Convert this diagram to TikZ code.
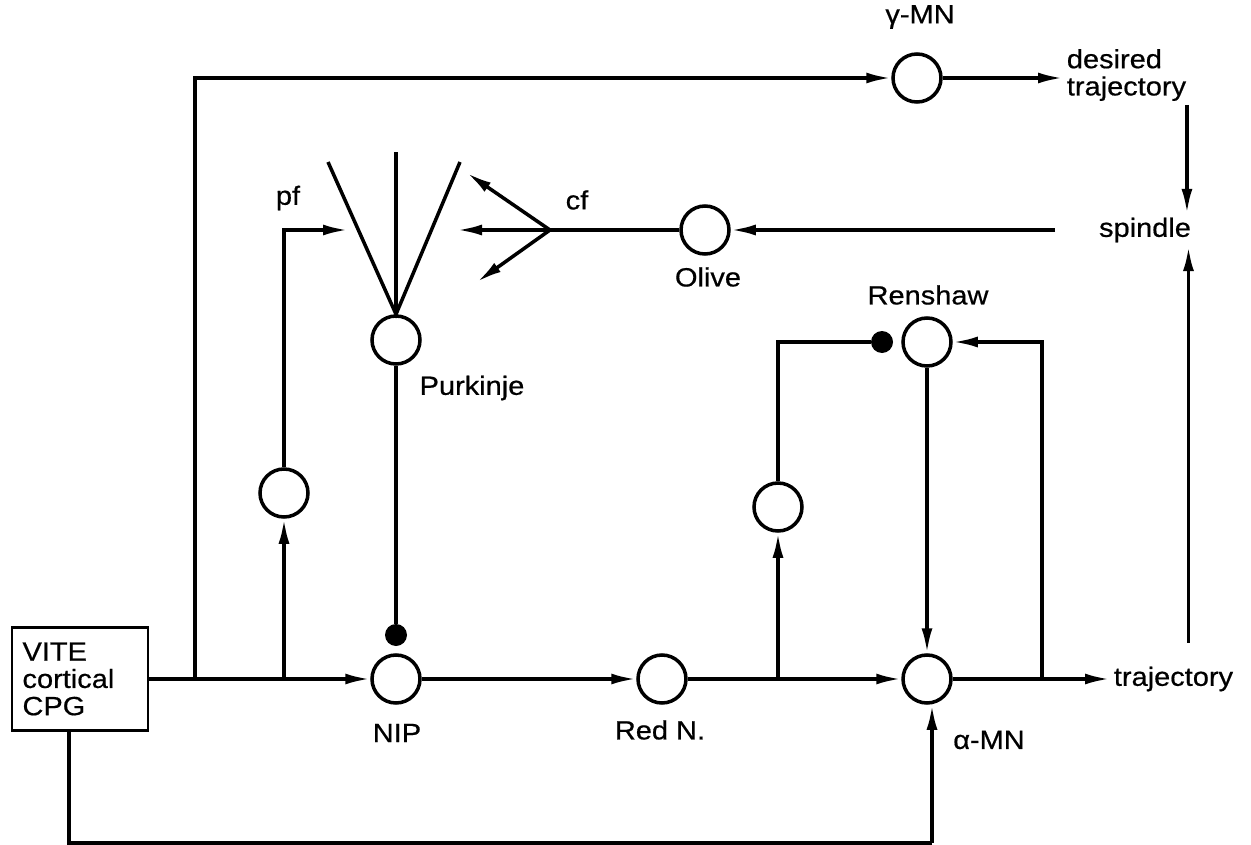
\documentclass[tikz,border=0pt]{standalone}
\usepackage{fontspec}
\setmainfont{Liberation Sans}[FakeStretch=1.1, FakeBold=0.6]
\usepackage{tikz}
\usetikzlibrary{calc, positioning, arrows.meta}

\begin{document}
\begin{tikzpicture}[
  x=0.02cm, y=-0.02cm,
  wire/.style={line width=2pt},
  arr/.style={wire, -{Latex[length=0.5cm, width=0.22cm]}},
  neuron/.style={circle, draw, line width=2pt, minimum size=0.96cm, inner sep=0pt},
  inhib/.style={circle, fill=black, minimum size=0.44cm, inner sep=0pt},
  lbl/.style={font=\fontsize{15}{15.5}\selectfont, inner sep=2pt}
]
  \useasboundingbox (0,0) rectangle (1251,845);

  % Input box
  \node[draw, line width=1.2pt, lbl, align=left, text width=2.3cm,
        inner xsep=0.21cm, minimum height=2.06cm] (vite) at (80,679)
        {VITE\\cortical\\CPG};

  % Neurons
  \node[neuron] (nip)   at (396,679) {};
  \node[neuron] (redn)  at (662,679) {};
  \node[neuron] (amn)   at (927,679) {};
  \node[neuron] (purk)  at (396,340) {};
  \node[neuron] (pfn)   at (284,493) {};
  \node[neuron] (intn)  at (778,507) {};
  \node[neuron] (rensh) at (927,342) {};
  \node[neuron] (olive) at (705,230) {};
  \node[neuron] (gmn)   at (917,78)  {};
  \node[inhib]  (nipdot) at (396,635) {};
  \node[inhib]  (rendot) at (882,342) {};

  % Labels
  \node[lbl] (lgmn)   at (920,17)  {γ-MN};
  \node[lbl] (lpf)    at (288,198) {pf};
  \node[lbl] (lcf)    at (577,200) {cf};
  \node[lbl] (lolive) at (708,277) {Olive};
  \node[lbl] (lpurk)  at (472,388) {Purkinje};
  \node[lbl] (lrensh) at (928,295) {Renshaw};
  \node[lbl] (lnip)   at (397,733) {NIP};
  \node[lbl] (lredn)  at (660,730) {Red N.};
  \node[lbl] (lamn)   at (989,740) {α-MN};
  \node[lbl, anchor=west] (traj) at (1110,679) {trajectory};
  \node[lbl, anchor=west, align=left] (desired) at (1063,75) {desired\\trajectory};
  \node[lbl] (spindle) at (1145,230) {spindle};

  % Junctions and free ends
  \coordinate (j1) at (195,679);
  \coordinate (j2) at (284,679);
  \coordinate (j3) at (778,679);
  \coordinate (j4) at (1042,679);
  \coordinate (pfend) at (348,230);
  \coordinate (fanL) at (328,162);
  \coordinate (fanM) at (396,152);
  \coordinate (fanR) at (460,162);
  \coordinate (cf) at (550,230);
  \coordinate (cfA) at (457,230);
  \coordinate (cfB) at (467,173);
  \coordinate (cfC) at (477,282);
  \coordinate (botR) at (932,843);

  % Main pathway
  \draw[arr] (vite.east |- nip) -- (nip.west);
  \draw[arr] (nip.east) -- (redn.west);
  \draw[arr] (redn.east) -- (amn.west);
  \draw[arr] (amn.east) -- (traj.west);

  % Gamma branch
  \draw[arr] (j1) |- (gmn.west);
  \draw[arr] (gmn.east) -- (desired.west |- gmn);
  \draw[arr] ([xshift=-0.06cm]desired.south east) -- ([xshift=-0.06cm]desired.south east |- spindle.north);
  \draw[arr] ([xshift=0.3cm, yshift=0.4cm]traj.north) -- ([xshift=0.3cm]traj.north |- spindle.south);

  % Parallel fibres and Purkinje cell
  \draw[arr] (j2) -- (pfn.south);
  \draw[arr] (pfn.north) |- (pfend);
  \draw[wire] (fanL) -- (purk.north) -- (fanR);
  \draw[wire] (fanM) -- (purk.north);
  \draw[wire] (purk.south) -- (nipdot);

  % Climbing fibre from the olive
  \draw[arr] ([xshift=-0.8cm]spindle.west) -- (olive.east);
  \draw[wire] (olive.west) -- (cf);
  \foreach \tip in {cfA, cfB, cfC} {
    \draw[arr] (cf) -- (\tip);
  }

  % Renshaw loop
  \draw[arr] (j3) -- (intn.south);
  \draw[wire] (intn.north) |- (rendot.west);
  \draw[arr] (rensh.south) -- (amn.north);
  \draw[arr] (j4) |- (rensh.east);

  % Direct cortical drive
  \draw[wire] ([xshift=-0.22cm]vite.south) |- (botR);
  \draw[arr] (botR) -- (botR |- amn.south);
\end{tikzpicture}
\end{document}
